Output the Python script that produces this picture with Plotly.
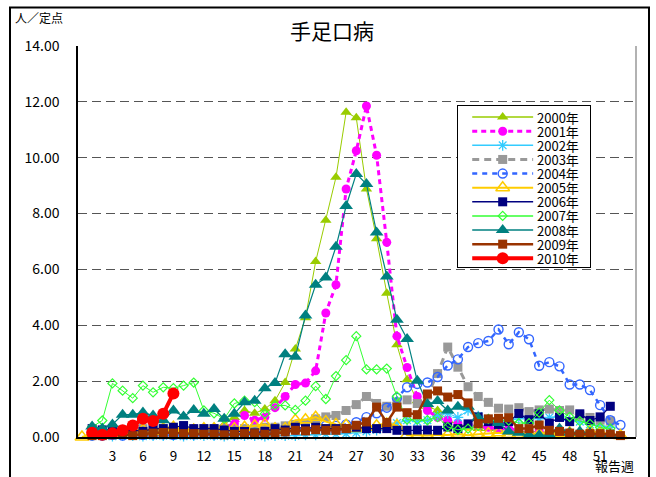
import plotly.graph_objects as go

# ---------------- data ----------------
series_names = ["2000年", "2001年", "2002年", "2003年", "2004年", "2005年",
                "2006年", "2007年", "2008年", "2009年", "2010年"]
start_weeks = [1, 1, 1, 1, 1, 0, 1, 1, 1, 1, 1]
x_tick_values = list(range(3, 52, 3))
y_tick_values = [0, 2, 4, 6, 8, 10, 12, 14]

v2000 = [0.15, 0.15, 0.2, 0.2, 0.2, 0.25, 0.2, 0.25, 0.25, 0.3, 0.3, 0.3, 0.35, 0.45, 0.7,
         0.95, 0.85, 1.0, 1.3, 1.95, 3.15, 4.27, 6.28, 7.76, 9.3, 11.63, 11.43, 8.88, 7.1, 5.15,
         3.3, 2.05, 1.3, 1.1, 0.95, 0.6, 0.45, 0.35, 0.3, 0.3, 0.25, 0.25, 0.2, 0.2, 0.2,
         0.15, 0.15, 0.15, 0.1, 0.1, 0.1, 0.1]
v2001 = [0.1, 0.1, 0.15, 0.15, 0.15, 0.2, 0.2, 0.2, 0.2, 0.25, 0.3, 0.3, 0.3, 0.35, 0.47,
         0.77, 0.6, 0.71, 1.05, 1.45, 1.88, 1.93, 2.37, 4.44, 5.45, 8.88, 10.25, 11.85, 10.09, 6.97,
         3.61, 2.49, 1.45, 0.95, 0.7, 0.6, 0.5, 0.45, 0.4, 0.35, 0.3, 0.3, 0.25, 0.2, 0.2,
         0.15, 0.15, 0.15, 0.1, 0.1, 0.1, 0.1]
v2002 = [0.05, 0.05, 0.03, 0.05, 0.05, 0.03, 0.05, 0.05, 0.05, 0.03, 0.05, 0.05, 0.05, 0.03,
         0.05, 0.05, 0.05, 0.03, 0.05, 0.05, 0.05, 0.08, 0.08, 0.1, 0.1, 0.12, 0.15, 0.2,
         0.25, 0.35, 0.5, 0.6, 0.55, 0.6, 0.75, 0.85, 0.7, 0.95, 0.75, 0.6, 0.55, 0.6, 0.65,
         0.7, 0.65, 0.7, 0.75, 0.6, 0.55, 0.45, 0.4, 0.35]
v2003 = [0.2, 0.25, 0.2, 0.25, 0.3, 0.3, 0.25, 0.3, 0.25, 0.3, 0.25, 0.3, 0.3, 0.3, 0.25,
         0.3, 0.3, 0.35, 0.35, 0.4, 0.45, 0.5, 0.65, 0.72, 0.77, 0.95, 1.16, 1.45, 1.2, 1.1,
         1.25, 1.33, 1.2, 1.5, 2.27, 3.22, 2.5, 1.8, 1.45, 1.24, 1.03, 1.0, 1.05, 0.91, 0.97,
         1.0, 0.95, 0.97, 0.75, 0.7, 0.6, 0.57]
v2004 = [0.05, 0.05, 0.08, 0.05, 0.1, 0.08, 0.1, 0.1, 0.08, 0.1, 0.1, 0.12, 0.1, 0.12, 0.1,
         0.12, 0.15, 0.15, 0.2, 0.2, 0.25, 0.25, 0.3, 0.4, 0.4, 0.45, 0.53, 0.71, 0.85, 1.05,
         1.4, 1.78, 1.9, 1.95, 2.15, 2.56, 2.78, 3.22, 3.36, 3.44, 3.85, 3.32, 3.75, 3.5, 2.55,
         2.68, 2.53, 1.88, 1.88, 1.68, 1.14, 0.6, 0.43]
v2005 = [0.0,
         0.1, 0.1, 0.15, 0.15, 0.2, 0.25, 0.2, 0.3, 0.35, 0.3, 0.25, 0.3, 0.3, 0.35, 0.3,
         0.35, 0.4, 0.45, 0.3, 0.3, 0.6, 0.62, 0.71, 0.55, 0.45, 0.42, 0.3, 0.35, 0.4, 0.47,
         0.41, 0.06, 0.06, 0.05, 0.08, 0.07, 0.1, 0.06, 0.1, 0.12, 0.15, 0.1, 0.1, 0.12, 0.1,
         0.15, 0.12, 0.15, 0.1, 0.2, 0.15, 0.1, 0.05]
v2006 = [0.3, 0.25, 0.3, 0.2, 0.25, 0.2, 0.3, 0.3, 0.35, 0.41, 0.3, 0.3, 0.3, 0.25, 0.2,
         0.2, 0.15, 0.2, 0.3, 0.25, 0.35, 0.3, 0.35, 0.3, 0.3, 0.3, 0.35, 0.3, 0.3, 0.3,
         0.24, 0.24, 0.25, 0.25, 0.24, 0.36, 0.3, 0.47, 0.72, 0.55, 0.45, 0.55, 0.84, 0.62, 0.83,
         0.5, 0.7, 0.55, 0.83, 0.59, 0.72, 1.1]
v2007 = [0.36, 0.59, 1.92, 1.66, 1.39, 1.84, 1.6, 1.78, 1.75, 1.84, 1.95, 0.95, 0.85, 0.65, 1.2,
         1.3, 1.25, 0.83, 1.13, 1.13, 0.97, 1.3, 1.82, 1.36, 2.18, 2.75, 3.61, 2.42, 2.42, 2.45,
         1.45, 0.62, 0.62, 0.6, 0.71, 0.36, 0.26, 0.3, 0.4, 0.65, 0.59, 0.59, 0.5, 0.5, 0.87,
         1.32, 0.95, 0.72, 0.57, 0.47, 0.34, 0.3]
v2008 = [0.38, 0.3, 0.45, 0.8, 0.8, 0.88, 0.77, 0.6, 0.95, 0.73, 0.97, 0.83, 1.0, 0.65, 0.83,
         1.24, 1.3, 1.75, 1.93, 2.96, 2.87, 4.35, 5.45, 5.71, 6.81, 8.27, 9.42, 9.06, 7.32, 5.75,
         4.2, 3.51, 2.01, 1.18, 1.29, 0.95, 1.08, 1.08, 0.7, 0.6, 0.5, 0.2, 0.15, 0.06, 0.06,
         0.08, 0.3, 0.15, 0.2, 0.15, 0.06, 0.1]
v2009 = [0.05, 0.05, 0.08, 0.1, 0.05, 0.1, 0.14, 0.16, 0.14, 0.12, 0.12, 0.1, 0.1, 0.08, 0.1,
         0.12, 0.12, 0.1, 0.12, 0.18, 0.24, 0.22, 0.26, 0.24, 0.24, 0.3, 0.42, 0.54, 1.07, 0.52,
         1.07, 0.87, 0.8, 1.54, 1.65, 1.43, 1.52, 1.22, 0.48, 0.65, 0.67, 0.69, 0.3, 0.3, 0.43,
         0.24, 0.2, 0.14, 0.1, 0.12, 0.12, 0.1, 0.05]
v2010 = [0.15, 0.08, 0.13, 0.24, 0.41, 0.65, 0.57, 0.83, 1.56]

series_values = [v2000, v2001, v2002, v2003, v2004, v2005, v2006, v2007, v2008, v2009, v2010]

# ---------------- styles ----------------
styles = [
    dict(color="#99CC00", width=1, dash="solid", symbol="triangle-up", size=10, mlw=0),
    dict(color="#FF00FF", width=3, dash="5px,4px", symbol="circle", size=9, mlw=0),
    dict(color="#33CCFF", width=1, dash="solid", symbol="asterisk-open", size=9, mlw=1.3),
    dict(color="#999999", width=3, dash="7px,5px", symbol="square", size=9, mlw=0),
    dict(color="#3366FF", width=2.5, dash="5px,5px", symbol="circle-open", size=9, mlw=1.4),
    dict(color="#FFCC00", width=2, dash="solid", symbol="triangle-up-open", size=12, mlw=1.5),
    dict(color="#000080", width=1.2, dash="solid", symbol="square", size=9, mlw=0),
    dict(color="#33FF33", width=1, dash="solid", symbol="diamond-open", size=7, mlw=1.2),
    dict(color="#008080", width=1.2, dash="solid", symbol="triangle-up", size=12, mlw=0),
    dict(color="#993300", width=2.5, dash="solid", symbol="square", size=9, mlw=0),
    dict(color="#FF0000", width=4, dash="solid", symbol="circle", size=12, mlw=0),
]

FONT = "Noto Sans CJK JP, Liberation Sans, sans-serif"

fig = go.Figure()

for name, start, vals, st in zip(series_names, start_weeks, series_values, styles):
    weeks = list(range(start, start + len(vals)))
    fig.add_trace(go.Scatter(
        x=weeks, y=vals, name=name, mode="lines+markers",
        line=dict(color=st["color"], width=st["width"], dash=st["dash"]),
        marker=dict(symbol=st["symbol"], size=st["size"], color=st["color"],
                    line=dict(color=st["color"], width=st["mlw"])),
        cliponaxis=False, showlegend=False, xaxis="x", yaxis="y",
    ))

# ---------------- custom legend box (inset axes) ----------------
LEG_W, LEG_H = 130, 163
row0, row_step = 11, 14.3
for i, (name, st) in enumerate(zip(series_names, styles)):
    yy = row0 + i * row_step
    fig.add_trace(go.Scatter(
        x=[14, 74], y=[yy, yy], mode="lines",
        line=dict(color=st["color"], width=max(st["width"], 1.5), dash=st["dash"]),
        showlegend=False, hoverinfo="skip", xaxis="x2", yaxis="y2", cliponaxis=False))
    fig.add_trace(go.Scatter(
        x=[44], y=[yy], mode="markers",
        marker=dict(symbol=st["symbol"], size=st["size"], color=st["color"],
                    line=dict(color=st["color"], width=st["mlw"])),
        showlegend=False, hoverinfo="skip", xaxis="x2", yaxis="y2", cliponaxis=False))
    fig.add_annotation(x=77, y=yy, xref="x2", yref="y2", text=name, showarrow=False,
                       xanchor="left", yanchor="middle", borderpad=0,
                       font=dict(family=FONT, size=13, color="black"))

# white background of legend box, above main gridlines, below legend marks
fig.add_shape(type="rect", xref="x2", yref="y2", x0=0, x1=LEG_W, y0=0, y1=LEG_H,
              fillcolor="white", line=dict(width=0), layer="between")

W, H = 656, 477
L, R, T, B = 78, 20, 46, 35
pw, ph = W - L - R, H - T - B

def px_to_paper_x(px):
    return (px - L) / pw

def px_to_paper_y(py):
    return (H - B - py) / ph

leg_x0, leg_x1 = 458, 590
leg_y0, leg_y1 = 107, 270

fig.update_layout(
    width=W, height=H,
    margin=dict(l=L, r=R, t=T, b=B, pad=0),
    paper_bgcolor="white", plot_bgcolor="white",
    font=dict(family=FONT, size=13, color="black"),
    showlegend=False,
    xaxis=dict(
        range=[-0.39, 54.53], tickmode="array", tickvals=x_tick_values,
        ticktext=[str(v) for v in x_tick_values],
        showgrid=False, zeroline=False, showline=True, linecolor="black", linewidth=1.5,
        ticks="", ticklabelstandoff=6, tickfont=dict(size=13.5, family=FONT),
    ),
    yaxis=dict(
        range=[0, 14], tickmode="array", tickvals=y_tick_values,
        ticktext=[f"{v:.2f}" for v in y_tick_values],
        showgrid=True, gridcolor="#555555", gridwidth=1, griddash="9px,5px",
        zeroline=False, showline=True, linecolor="black", linewidth=1.5,
        ticks="", ticklabelstandoff=14, tickfont=dict(size=14, family=FONT),
    ),
    xaxis2=dict(domain=[px_to_paper_x(leg_x0), px_to_paper_x(leg_x1)],
                range=[0, LEG_W], anchor="y2", visible=True, showgrid=False,
                zeroline=False, showticklabels=False, ticks="", showline=True,
                mirror=True, linecolor="black", linewidth=1, fixedrange=True),
    yaxis2=dict(domain=[px_to_paper_y(leg_y1), px_to_paper_y(leg_y0)],
                range=[LEG_H, 0], anchor="x2", visible=True, showgrid=False,
                zeroline=False, showticklabels=False, ticks="", showline=True,
                mirror=True, linecolor="black", linewidth=1, fixedrange=True),
)

# right border of plot area (gray)
fig.add_shape(type="line", xref="paper", yref="paper", x0=1, x1=1, y0=0, y1=1,
              line=dict(color="#999999", width=1.5))
# outer frame
fig.add_shape(type="rect", xref="paper", yref="paper",
              x0=px_to_paper_x(10), x1=px_to_paper_x(649),
              y0=px_to_paper_y(495), y1=px_to_paper_y(7),
              line=dict(color="black", width=2), fillcolor="rgba(0,0,0,0)")

# texts
fig.add_annotation(x=px_to_paper_x(332), y=px_to_paper_y(30), xref="paper", yref="paper",
                   text="手足口病", showarrow=False, xanchor="center", yanchor="middle",
                   font=dict(family=FONT, size=21, color="black"))
fig.add_annotation(x=px_to_paper_x(13), y=px_to_paper_y(17), xref="paper", yref="paper",
                   text="人／定点", showarrow=False, xanchor="left", yanchor="middle",
                   font=dict(family=FONT, size=12, color="black"))
fig.add_annotation(x=px_to_paper_x(614), y=px_to_paper_y(471), xref="paper", yref="paper",
                   text="報告週", showarrow=False, xanchor="center", yanchor="middle",
                   borderpad=0, font=dict(family=FONT, size=13, color="black"))

fig.write_html("out.html", config={"displayModeBar": False},
               post_script="document.body.style.margin='0px';document.body.style.overflow='hidden';")
